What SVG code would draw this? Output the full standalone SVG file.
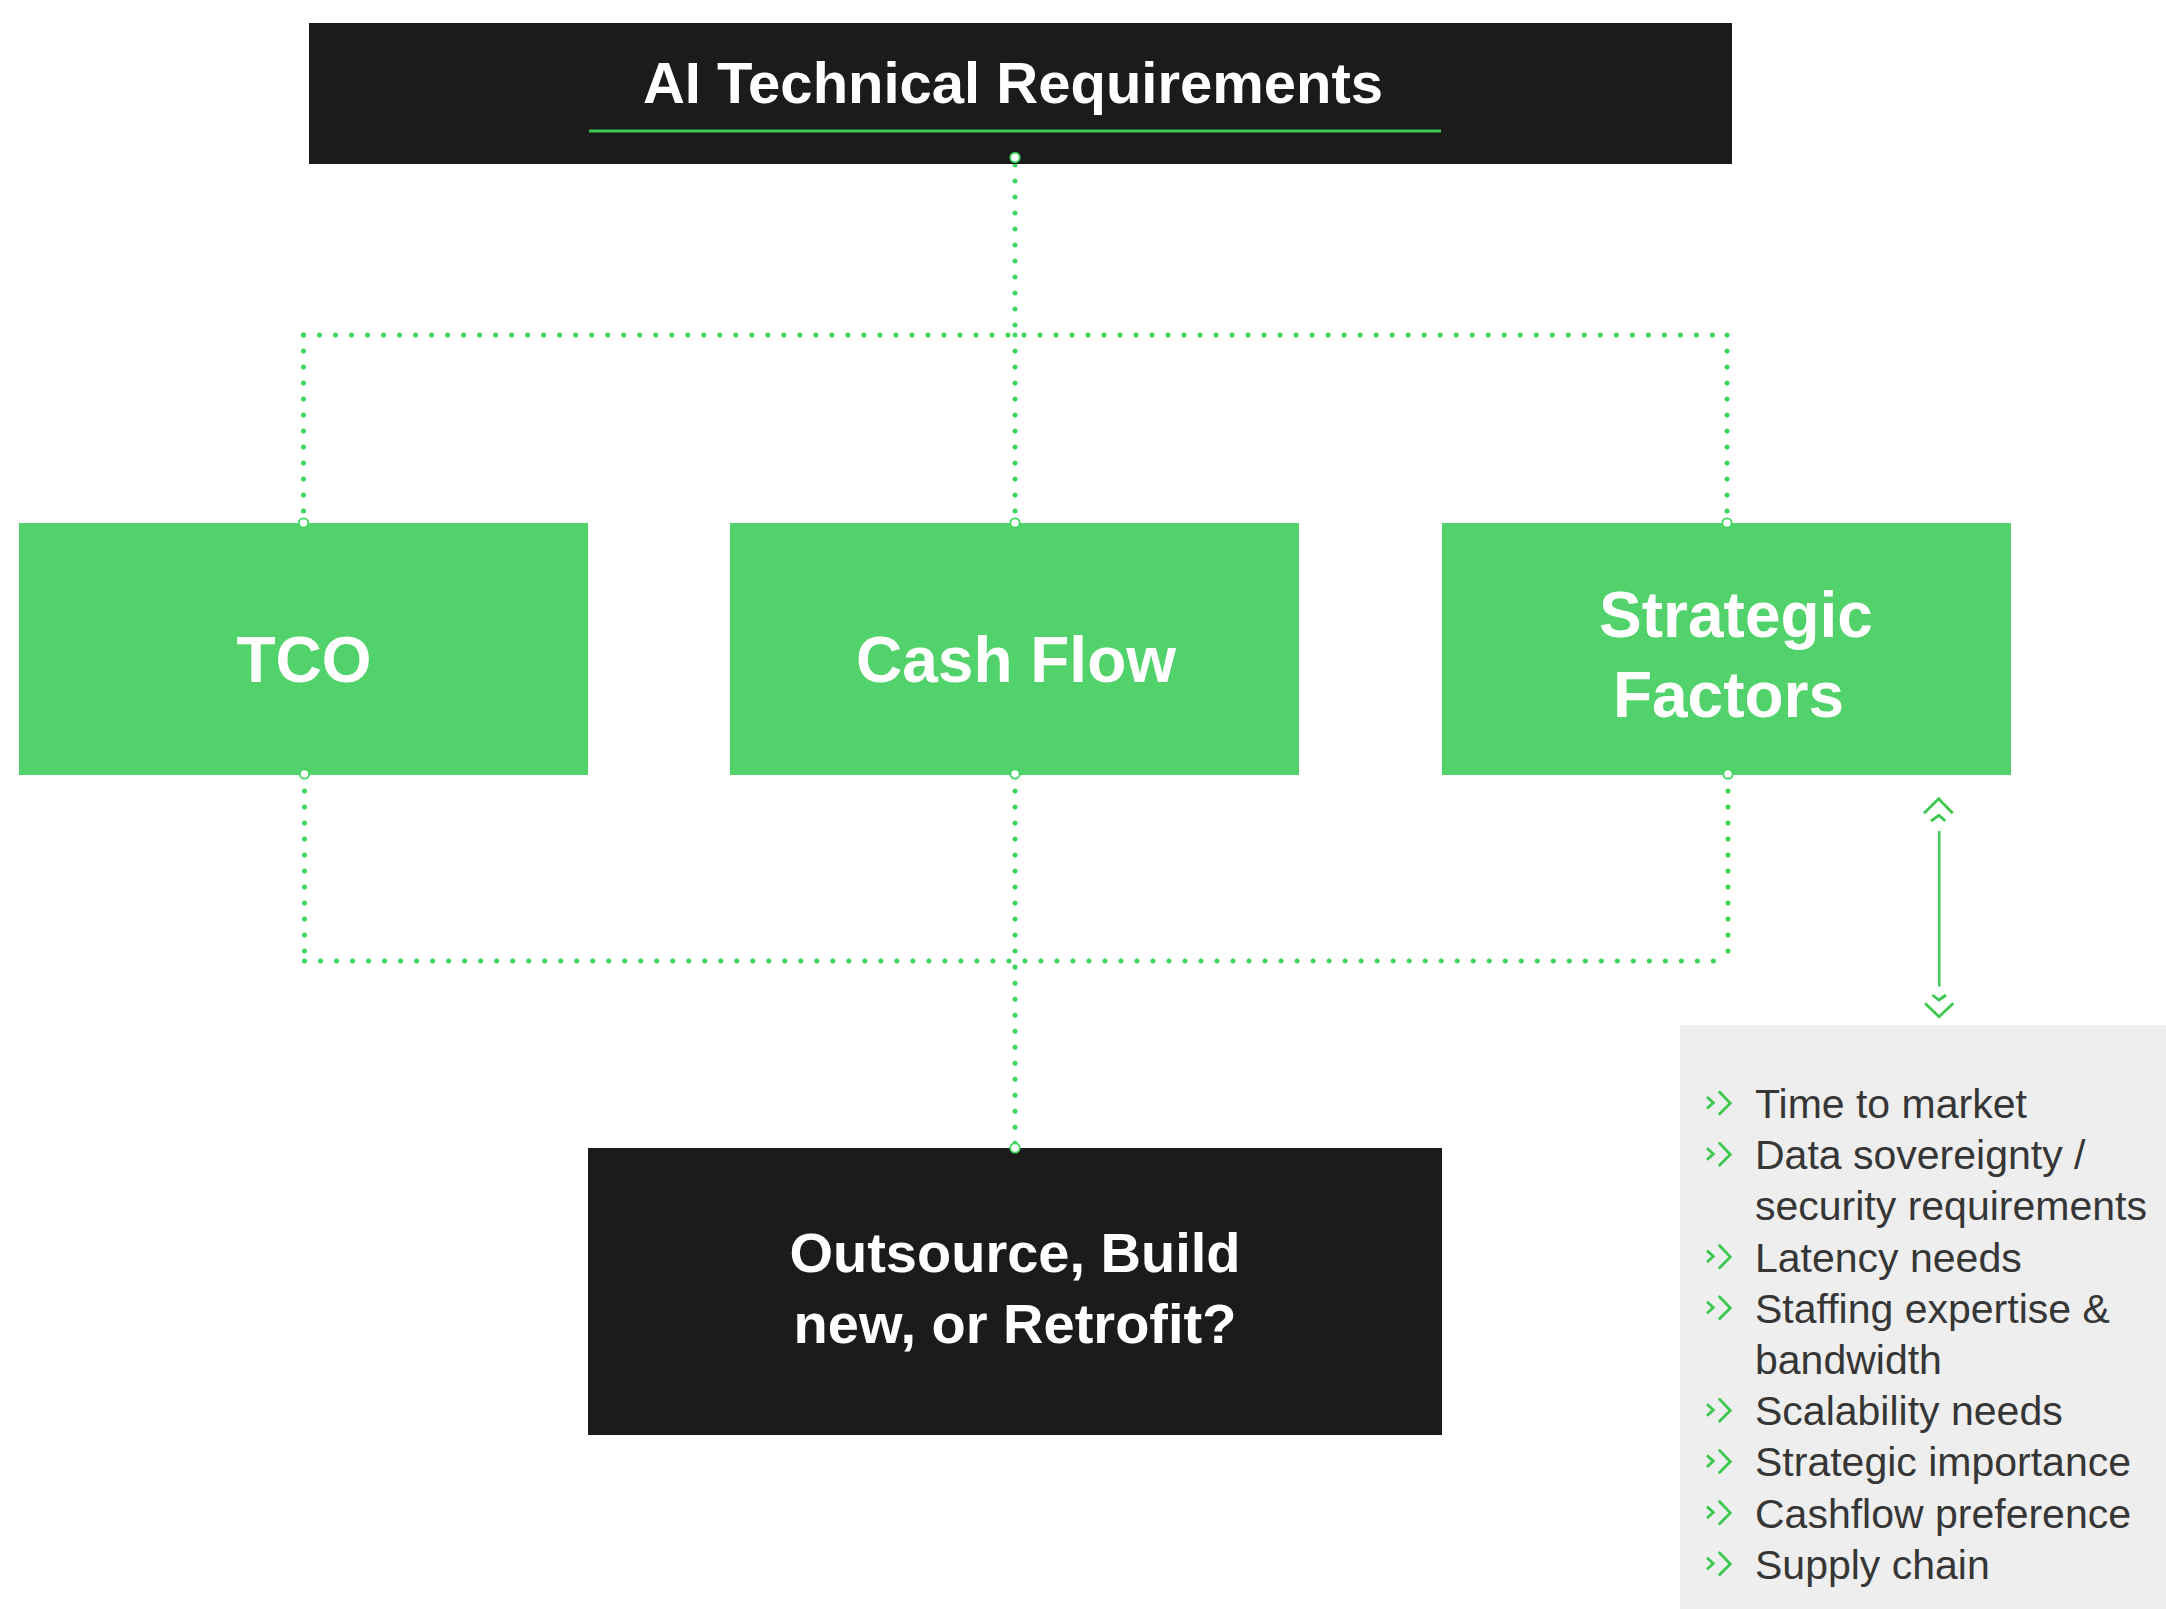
<svg xmlns="http://www.w3.org/2000/svg" width="2166" height="1609" viewBox="0 0 2166 1609">
  <style>
    .dark { fill: #1b1b1b; }
    .green { fill: #51d26a; }
    .head { font-family: "Liberation Sans", Arial, sans-serif; font-weight: bold; fill: #ffffff; text-anchor: middle; }
    .dots { fill: none; stroke: #3dd55c; stroke-width: 5; stroke-linecap: round; stroke-dasharray: 0.01 16; }
    .port { fill: #ffffff; stroke: #3dd55c; stroke-width: 1.8; }
    .chev { fill: none; stroke: #3cc84f; stroke-width: 2.8; stroke-linecap: butt; stroke-linejoin: miter; }
    .item { font-family: "Liberation Sans", Arial, sans-serif; font-size: 41px; fill: #363636; }
  </style>
  <defs>
    <!-- double chevron bullet, positioned on the text baseline -->
    <g id="bullet">
      <polyline class="chev" points="1707,-21 1713.3,-15.3 1707,-9.5"/>
      <polyline class="chev" points="1718.8,-26.8 1730.3,-14.7 1718.8,-3.2"/>
    </g>
  </defs>

  <rect width="2166" height="1609" fill="#ffffff"/>

  <!-- connectors -->
  <g id="connectors">
    <path class="dots" d="M1015,165 V335"/>
    <path class="dots" d="M303.5,335 H1727"/>
    <path class="dots" d="M303.5,335 V523"/>
    <path class="dots" d="M1015,335 V523"/>
    <path class="dots" d="M1727,335 V523"/>
    <path class="dots" d="M304.5,775 V961"/>
    <path class="dots" d="M1015,775 V1148"/>
    <path class="dots" d="M1728,775 V961"/>
    <path class="dots" d="M304.5,961 H1728"/>
    <!-- double-headed link to the list of strategic factors -->
    <g id="link-factors">
      <line x1="1939.3" y1="831" x2="1939.3" y2="986.5" stroke="#3cc84f" stroke-width="2.4"/>
      <polyline class="chev" points="1924,813.3 1938.7,798.7 1952.7,813.3"/>
      <polyline class="chev" points="1931,821 1939,815.3 1945.3,821"/>
      <polyline class="chev" points="1932.3,995 1939,1000 1946,995"/>
      <polyline class="chev" points="1925,1003.3 1939,1016.7 1953.3,1003.3"/>
    </g>
  </g>

  <!-- title node -->
  <g id="node-requirements">
    <rect class="dark" x="309" y="23" width="1423" height="141"/>
    <text class="head" x="1013" y="103" font-size="58">AI Technical Requirements</text>
    <rect x="589" y="129.5" width="852" height="3" fill="#3cc84f"/>
  </g>

  <g id="node-tco">
    <rect class="green" x="19" y="523" width="569" height="252"/>
    <text class="head" x="304" y="682" font-size="64">TCO</text>
  </g>

  <g id="node-cashflow">
    <rect class="green" x="730" y="523" width="569" height="252"/>
    <text class="head" x="1016" y="682" font-size="64">Cash Flow</text>
  </g>

  <g id="node-strategic">
    <rect class="green" x="1442" y="523" width="569" height="252"/>
    <text class="head" x="1736" y="637" font-size="64">Strategic</text>
    <text class="head" x="1728.5" y="717" font-size="64">Factors</text>
  </g>

  <g id="node-decision">
    <rect class="dark" x="588" y="1148" width="854" height="287"/>
    <text class="head" x="1015" y="1272" font-size="56">Outsource, Build</text>
    <text class="head" x="1015" y="1343" font-size="56">new, or Retrofit?</text>
  </g>

  <!-- connection ports -->
  <g id="ports">
    <circle class="port" cx="1015" cy="157.5" r="4.7"/>
    <circle class="port" cx="303.5" cy="523" r="4.7"/>
    <circle class="port" cx="1015" cy="523" r="4.7"/>
    <circle class="port" cx="1727" cy="523" r="4.7"/>
    <circle class="port" cx="304.5" cy="774" r="4.7"/>
    <circle class="port" cx="1015" cy="774" r="4.7"/>
    <circle class="port" cx="1728" cy="774" r="4.7"/>
    <circle class="port" cx="1015" cy="1148" r="4.7"/>
  </g>

  <!-- list of strategic factors -->
  <g id="node-factor-list">
    <rect x="1680" y="1025" width="486" height="584" fill="#eeeeee"/>
    <use href="#bullet" y="1118"/>
    <text class="item" x="1755" y="1118">Time to market</text>
    <use href="#bullet" y="1169.2"/>
    <text class="item" x="1755" y="1169.2">Data sovereignty /</text>
    <text class="item" x="1755" y="1220.4">security requirements</text>
    <use href="#bullet" y="1271.6"/>
    <text class="item" x="1755" y="1271.6">Latency needs</text>
    <use href="#bullet" y="1322.8"/>
    <text class="item" x="1755" y="1322.8">Staffing expertise &amp;</text>
    <text class="item" x="1755" y="1374">bandwidth</text>
    <use href="#bullet" y="1425.2"/>
    <text class="item" x="1755" y="1425.2">Scalability needs</text>
    <use href="#bullet" y="1476.4"/>
    <text class="item" x="1755" y="1476.4">Strategic importance</text>
    <use href="#bullet" y="1527.6"/>
    <text class="item" x="1755" y="1527.6">Cashflow preference</text>
    <use href="#bullet" y="1578.8"/>
    <text class="item" x="1755" y="1578.8">Supply chain</text>
  </g>
</svg>
